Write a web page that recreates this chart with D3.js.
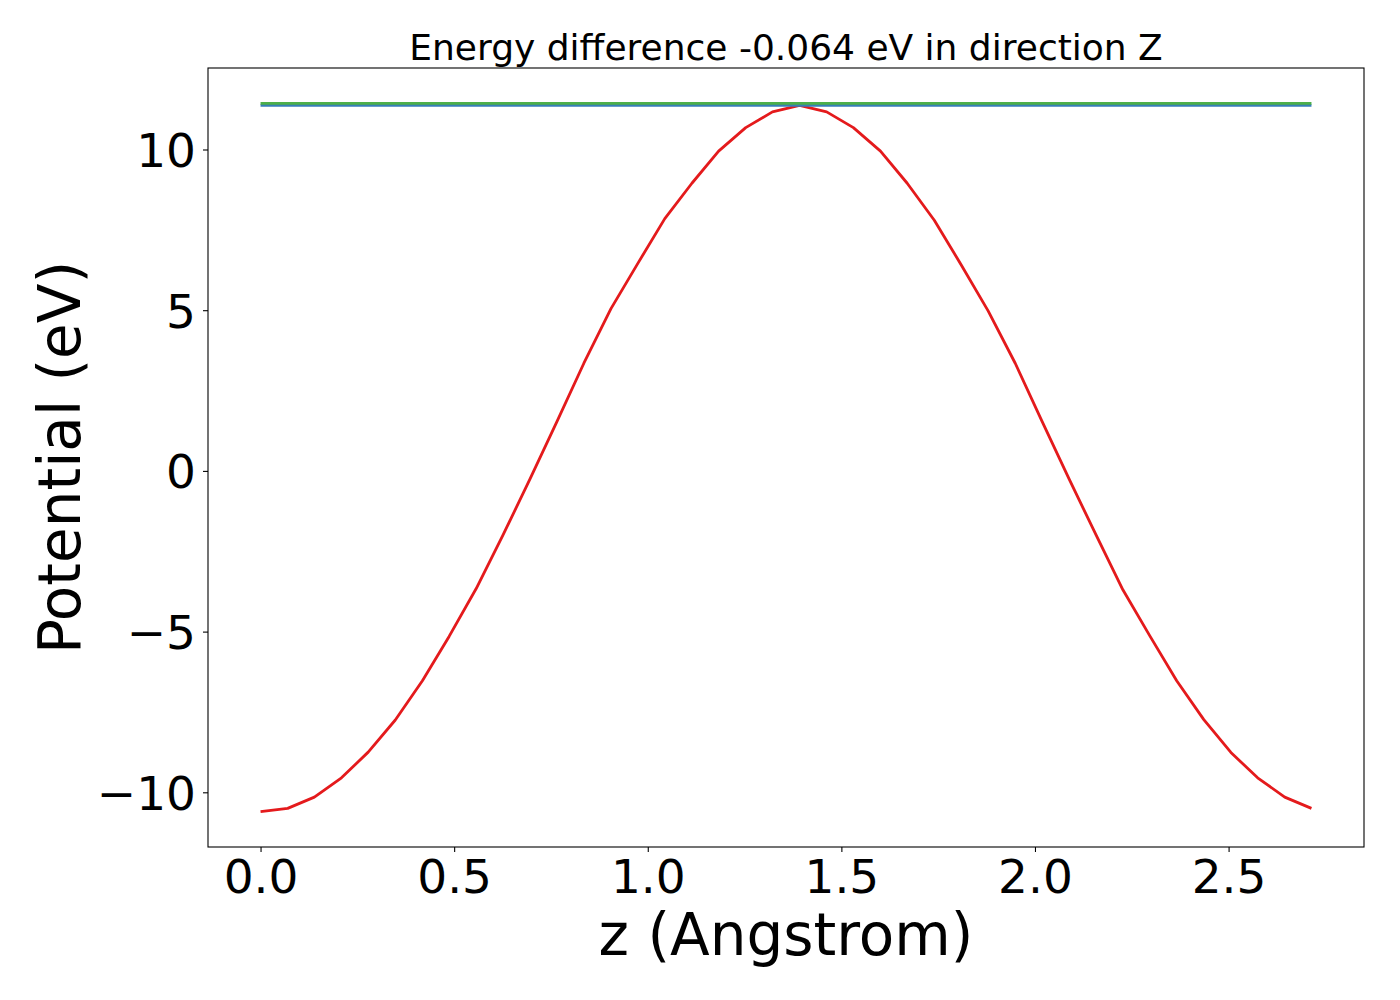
<!DOCTYPE html>
<html>
<head>
<meta charset="utf-8">
<script src="https://cdn.jsdelivr.net/npm/d3@7"></script>
<style>
    body { margin: 0; background: #fff; }
    svg text { font-family: "DejaVu Sans", sans-serif; fill: #000; }
</style>
</head>
<body>
<div class="chart-container"></div>
<script>
////////////////////////////////// data

// z positions (Angstrom)
var z_values = [0.000, 0.070, 0.139, 0.209, 0.278, 0.348, 0.418, 0.487, 0.557, 0.626,
                0.696, 0.766, 0.835, 0.905, 0.974, 1.044, 1.114, 1.183, 1.253, 1.322,
                1.392, 1.462, 1.531, 1.601, 1.670, 1.740, 1.810, 1.879, 1.949, 2.018,
                2.088, 2.158, 2.227, 2.297, 2.366, 2.436, 2.506, 2.575, 2.645, 2.714];

// potential along z (eV)
var potential = [-10.60, -10.50, -10.15, -9.55, -8.75, -7.75, -6.53, -5.15, -3.66, -2.00,
                 -0.25, 1.55, 3.35, 5.05, 6.45, 7.85, 8.95, 9.95, 10.68, 11.17,
                 11.37, 11.17, 10.68, 9.95, 8.95, 7.80, 6.40, 4.98, 3.35, 1.55,
                 -0.25, -2.00, -3.70, -5.14, -6.53, -7.74, -8.76, -9.55, -10.15, -10.50];

// the two flat reference levels (eV)
var level_names = ["blue", "green"];
var level_values = [11.37, 11.434];

var x_ticks = [0.0, 0.5, 1.0, 1.5, 2.0, 2.5];
var y_ticks = [-10, -5, 0, 5, 10];

var title_text = "Energy difference -0.064 eV in direction Z";
var x_label = "z (Angstrom)";
var y_label = "Potential (eV)";

////////////////////////////////// chart

var width = 1400, height = 1000;
var margin = { top: 68, right: 36, bottom: 153, left: 208 };
var colors = { red: "#e41a1c", blue: "#377eb8", green: "#4daf4a" };

var svg = d3.select(".chart-container").append("svg")
    .attr("width", width).attr("height", height);

// matplotlib-like 5% margins around the data
function padded(lo, hi){
    var pad = (hi - lo) * 0.05;
    return [lo - pad, hi + pad];
}

var all_y = potential.concat(level_values);
var x = d3.scaleLinear()
    .domain(padded(d3.min(z_values), d3.max(z_values)))
    .range([margin.left, width - margin.right]);
var y = d3.scaleLinear()
    .domain(padded(d3.min(all_y), d3.max(all_y)))
    .range([height - margin.bottom, margin.top]);

var line = d3.line()
    .x(function(d){ return x(d[0]); })
    .y(function(d){ return y(d[1]); });

var z_min = d3.min(z_values), z_max = d3.max(z_values);

// red potential curve
svg.append("path")
    .datum(z_values.map(function(z, i){ return [z, potential[i]]; }))
    .attr("d", line)
    .attr("fill", "none")
    .attr("stroke", colors.red)
    .attr("stroke-width", 2.8)
    .attr("stroke-linejoin", "round");

// flat levels, blue under green
level_values.forEach(function(v, i){
    svg.append("path")
        .datum([[z_min, v], [z_max, v]])
        .attr("d", line)
        .attr("fill", "none")
        .attr("stroke", colors[level_names[i]])
        .attr("stroke-width", 2.8);
});

// axes
var x_axis = d3.axisBottom(x).tickValues(x_ticks).tickFormat(d3.format(".1f"))
    .tickSizeInner(5).tickSizeOuter(0).tickPadding(7);
var y_axis = d3.axisLeft(y).tickValues(y_ticks).tickFormat(d3.format("d"))
    .tickSizeInner(5).tickSizeOuter(0).tickPadding(7);

var gx = svg.append("g")
    .attr("transform", "translate(0," + (height - margin.bottom) + ")")
    .call(x_axis);
var gy = svg.append("g")
    .attr("transform", "translate(" + margin.left + ",0)")
    .call(y_axis);

[gx, gy].forEach(function(g){
    g.select(".domain").remove();
    g.selectAll(".tick line").attr("stroke", "#000").attr("stroke-width", 1.1);
    g.selectAll(".tick text").style("font-size", "47px").attr("fill", "#000");
});
gx.selectAll(".tick text").attr("dy", "0.72em");
gy.selectAll(".tick text").attr("dy", "0.36em");

// frame
svg.append("rect")
    .attr("x", margin.left).attr("y", margin.top)
    .attr("width", width - margin.left - margin.right)
    .attr("height", height - margin.top - margin.bottom)
    .attr("fill", "none")
    .attr("stroke", "#000")
    .attr("stroke-width", 1.1);

// texts
var center_x = (margin.left + width - margin.right) / 2;
var center_y = (margin.top + height - margin.bottom) / 2;

svg.append("text")
    .attr("x", center_x).attr("y", 60)
    .attr("text-anchor", "middle")
    .style("font-size", "36px")
    .text(title_text);

svg.append("text")
    .attr("x", center_x).attr("y", 955)
    .attr("text-anchor", "middle")
    .style("font-size", "58px")
    .text(x_label);

svg.append("text")
    .attr("transform", "translate(80," + center_y + ") rotate(-90)")
    .attr("text-anchor", "middle")
    .style("font-size", "58px")
    .text(y_label);
</script>
</body>
</html>
